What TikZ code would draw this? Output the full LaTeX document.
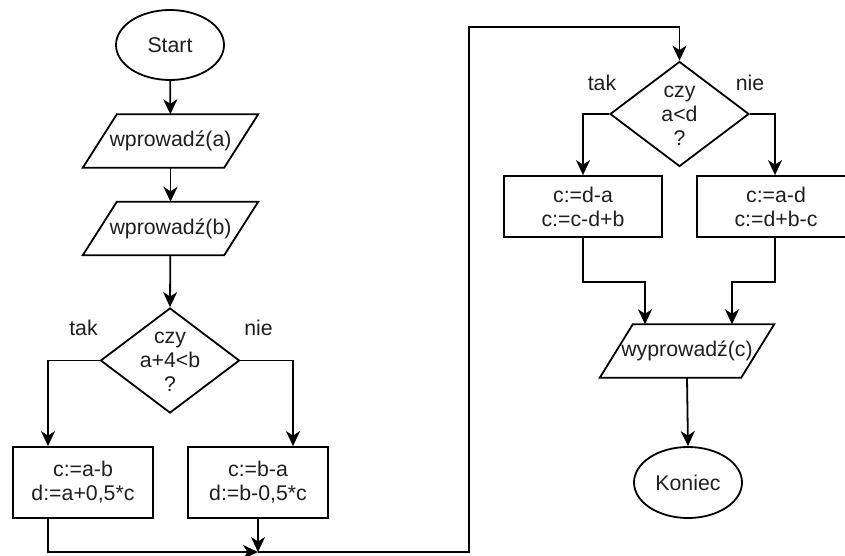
\documentclass[tikz,border=0pt]{standalone}
\usepackage{fontspec}
\setmainfont{Liberation Sans}
\usetikzlibrary{shapes.geometric,arrows.meta}

\tikzset{
  every node/.style={font=\fontsize{21.3}{24}\selectfont, text=black!88},
  shapeline/.style={draw=black, line width=1.8pt},
  terminal/.style={shapeline, ellipse, inner sep=0pt, minimum width=108pt, minimum height=70pt},
  iobox/.style={inner sep=0pt, minimum width=175pt, minimum height=53pt},
  procbox/.style={shapeline, rectangle, inner sep=0pt, minimum width=140pt, minimum height=71pt, align=center},
  wideproc/.style={procbox, minimum width=158pt, minimum height=61pt},
  decision/.style={shapeline, diamond, inner sep=0pt, minimum width=139pt, minimum height=105pt},
  txt/.style={align=center, inner sep=0pt},
  flow/.style={line width=1.8pt, -{Stealth[length=15pt, width=14pt, inset=4.5pt]}},
}

\begin{document}
\begin{tikzpicture}[x=1pt, y=-1pt]
\useasboundingbox (0,0) rectangle (845,556);
\clip (0,0) rectangle (845,556);
\fill[white] (0,0) rectangle (845,556);

% left column
\node[terminal] (start) at (170,45) {Start};
\node[iobox] (ina) at (170.5,141) {wprowadź(a)};
\node[iobox] (inb) at (170.5,228.5) {wprowadź(b)};
\node[decision] (d1) at (170,360.5) {};
\node[txt] (d1t) at (170,362) {czy\\a+4<b\\?};
\node[procbox] (b1) at (83,482.5) {c:=a-b\\d:=a+0,5*c};
\node[procbox] (b2) at (258,482.5) {c:=b-a\\d:=b-0,5*c};
\node[txt] (tak1) at (83.5,328) {tak};
\node[txt] (nie1) at (258.5,328) {nie};

% right column
\node[decision] (d2) at (679.5,114) {};
\node[txt] (d2t) at (679.5,116) {czy\\a<d\\?};
\node[wideproc] (b3) at (583,206.5) {c:=d-a\\c:=c-d+b};
\node[wideproc] (b4) at (776,206.5) {c:=a-d\\c:=d+b-c};
\node[iobox, minimum width=174pt] (outc) at (687,351) {wyprowadź(c)};
\node[terminal, minimum height=71pt] (stop) at (688,482.5) {Koniec};
\node[txt] (tak2) at (602,83) {tak};
\node[txt] (nie2) at (750,83) {nie};

% parallelogram outlines for the input/output nodes
\foreach \n/\s in {ina/34, inb/34, outc/33}
  \draw[shapeline, line join=miter]
    ([xshift=\s pt]\n.north west) -- (\n.north east)
    -- ([xshift=-\s pt]\n.south east) -- (\n.south west) -- cycle;

% junction points
\coordinate (j) at (258,552);
\coordinate (k1) at (469,552);
\coordinate (k2) at (469,27);

% connectors
\draw[flow] (start) -- (ina);
\draw[flow] (ina) -- (inb);
\draw[flow] (inb) -- (d1.north);
\draw[flow] (d1.west) -| ([xshift=-35pt]b1.north);
\draw[flow] (d1.east) -| ([xshift=35pt]b2.north);
\draw[flow] ([xshift=-35pt]b1.south) |- (j);
\draw[flow] (b2.south) -- (j);
\draw[flow] (j) -- (k1) -- (k2) -| (d2.north);
\draw[flow] (d2.west) -| (b3.north);
\draw[flow] (d2.east) -| ([xshift=-1pt]b4.north);
\draw[flow] (b3.south) -- ++(0,44) -| ([xshift=-42pt]outc.north);
\draw[flow] ([xshift=-1pt]b4.south) -- ++(0,44) -| ([xshift=45pt]outc.north);
\draw[flow] (outc.south) -- (stop.north);
\end{tikzpicture}
\end{document}
